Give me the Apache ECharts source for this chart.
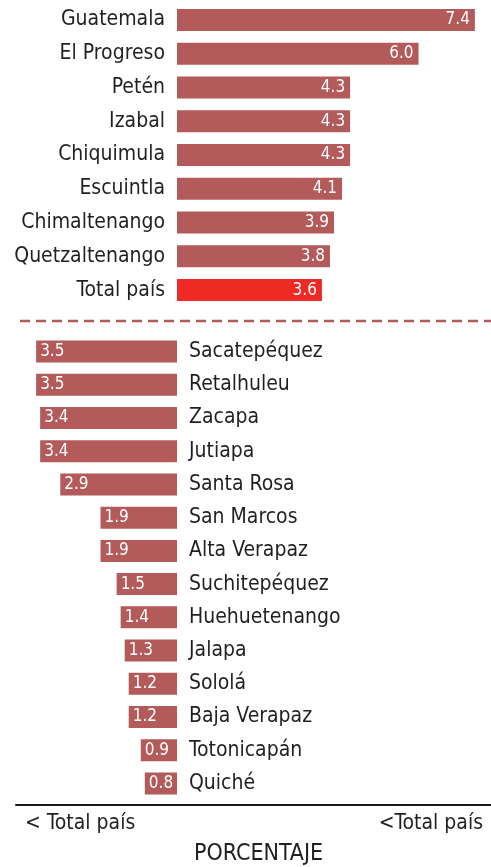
<!DOCTYPE html>
<html>
<head>
<meta charset="utf-8">
<script src="https://cdn.jsdelivr.net/npm/echarts@6/dist/echarts.min.js"></script>
<style>
  html, body { margin: 0; padding: 0; background: #fff; }
  #chart { width: 491px; height: 867px; }
</style>
</head>
<body>
<div id="chart"></div>
<script>
const FONT = "'Liberation Sans Narrow', 'DejaVu Sans Condensed', sans-serif";
const BAR_COLOR = "#b35a5a";
const TOTAL_COLOR = "#ee2a24";

// departamentos above the national total
const topNames = ["Guatemala", "El Progreso", "Petén", "Izabal", "Chiquimula", "Escuintla", "Chimaltenango", "Quetzaltenango", "Total país"];
const topValues = [7.4, 6.0, 4.3, 4.3, 4.3, 4.1, 3.9, 3.8, 3.6];

// departamentos below the national total
const bottomNames = ["Sacatepéquez", "Retalhuleu", "Zacapa", "Jutiapa", "Santa Rosa", "San Marcos", "Alta Verapaz", "Suchitepéquez", "Huehuetenango", "Jalapa", "Sololá", "Baja Verapaz", "Totonicapán", "Quiché"];
const bottomValues = [3.5, 3.5, 3.4, 3.4, 2.9, 1.9, 1.9, 1.5, 1.4, 1.3, 1.2, 1.2, 0.9, 0.8];

const xMin = -4;
const xMax = 7.8;

const chart = echarts.init(document.getElementById("chart"));

const valueAxis = (gridIndex, showLine) => ({
  type: "value",
  gridIndex,
  min: xMin,
  max: xMax,
  splitLine: { show: false },
  axisTick: { show: false },
  axisLabel: { show: false },
  axisLine: {
    show: showLine,
    onZero: false,
    lineStyle: { color: "#1a1a1a", width: 2 }
  },
  offset: showLine ? 5 : 0
});

const nameLabel = { margin: 12, fontSize: 21, color: "#231f20", fontFamily: FONT };

chart.setOption({
  animation: false,
  textStyle: { fontFamily: FONT },
  grid: [
    { left: 16, right: 0, top: 3, height: 304, outerBoundsMode: "none" },
    { left: 16, right: 0, top: 335, height: 465, outerBoundsMode: "none" }
  ],
  xAxis: [valueAxis(0, false), valueAxis(1, true)],
  yAxis: [
    {
      type: "category",
      gridIndex: 0,
      data: topNames,
      inverse: true,
      position: "left",
      offset: -161,
      axisLine: { show: false },
      axisTick: { show: false },
      axisLabel: nameLabel
    },
    {
      type: "category",
      gridIndex: 1,
      data: bottomNames,
      inverse: true,
      position: "right",
      offset: -314,
      axisLine: { show: false },
      axisTick: { show: false },
      axisLabel: nameLabel
    }
  ],
  series: [
    {
      type: "bar",
      xAxisIndex: 0,
      yAxisIndex: 0,
      barWidth: 22,
      data: topValues.map((v, i) => ({
        value: v,
        itemStyle: { color: topNames[i] === "Total país" ? TOTAL_COLOR : BAR_COLOR }
      })),
      label: {
        show: true,
        position: "insideRight",
        distance: 5,
        color: "#fff",
        fontSize: 17,
        fontFamily: FONT,
        formatter: (p) => p.value.toFixed(1)
      }
    },
    {
      type: "bar",
      xAxisIndex: 1,
      yAxisIndex: 1,
      barWidth: 22,
      itemStyle: { color: BAR_COLOR },
      data: bottomValues.map((v) => -v),
      label: {
        show: true,
        position: "insideLeft",
        distance: 4,
        color: "#fff",
        fontSize: 17,
        fontFamily: FONT,
        formatter: (p) => Math.abs(p.value).toFixed(1)
      }
    }
  ],
  graphic: [
    {
      type: "line",
      shape: { x1: 20, y1: 321, x2: 491, y2: 321 },
      style: { stroke: BAR_COLOR, lineWidth: 2.5, lineDash: [10, 6] }
    },
    {
      type: "text",
      left: 25,
      top: 813,
      style: { text: "< Total país", font: "21px " + FONT, fill: "#231f20" }
    },
    {
      type: "text",
      right: 8,
      top: 813,
      style: { text: "<Total país", font: "21px " + FONT, fill: "#231f20" }
    },
    {
      type: "text",
      left: 194,
      top: 843,
      style: { text: "PORCENTAJE", font: "23px " + FONT, fill: "#231f20" }
    }
  ]
});
</script>
</body>
</html>
